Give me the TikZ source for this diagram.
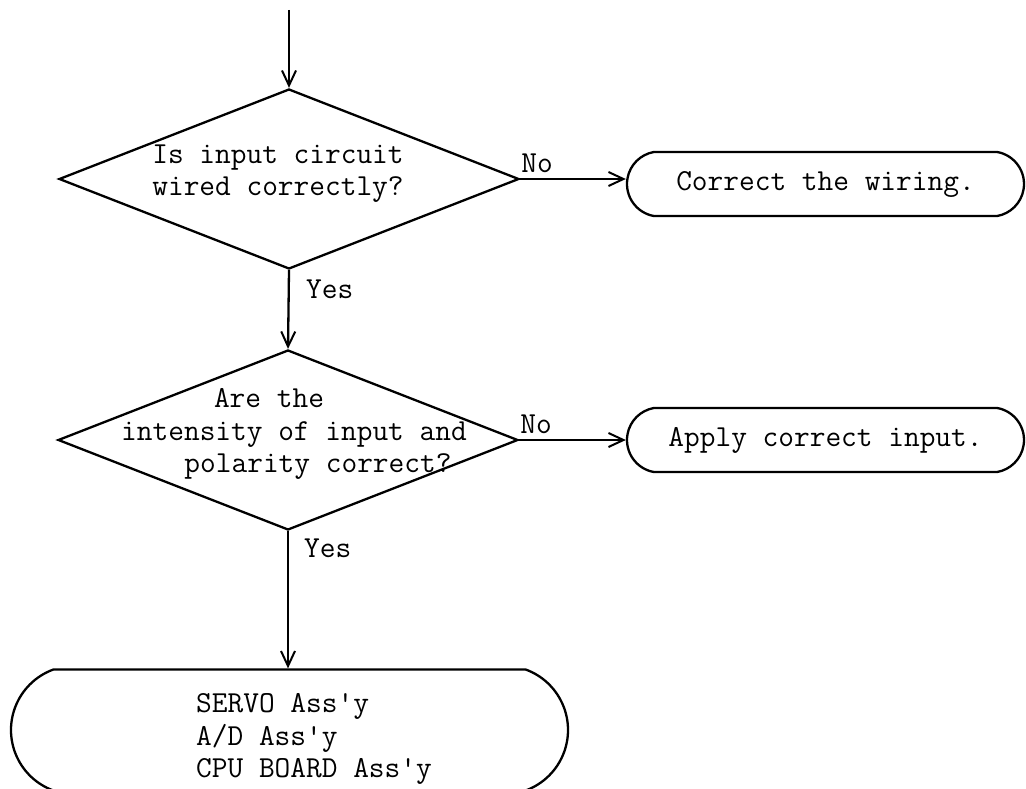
\documentclass[tikz,border=0pt]{standalone}
\usetikzlibrary{shapes.geometric,shapes.misc,arrows.meta}
% text placed over a node without letting it size the node
\newcommand\overlaytext[1]{\smash{\makebox[0pt]{#1}}}
\begin{document}
\begin{tikzpicture}[x=1pt,y=-1pt,
  every node/.style={font=\fontsize{30.5}{32.5}\selectfont\ttfamily},
  flow/.style={line width=2.3pt,-{Straight Barb[length=15pt,width=14pt,line width=2pt]}},
  decision/.style={diamond,draw,line width=2.3pt,inner sep=0pt,
    minimum width=460pt,minimum height=180pt},
  terminal/.style={rounded rectangle,draw,line width=2.3pt,inner sep=0pt,
    rounded rectangle arc length=160,minimum width=397pt,minimum height=64pt},
  bigterminal/.style={terminal,rounded rectangle arc length=140,
    minimum width=557pt,minimum height=121pt},
  lbl/.style={inner sep=0pt}
]
\useasboundingbox (0,0) rectangle (1026,789);

\coordinate (start) at (289,10);

\node[decision] (d1) at (289,179)
  {\overlaytext{\begin{tabular}{@{}c@{}}Is input circuit\\wired correctly?\end{tabular}\hspace*{22pt}}};
\node[terminal] (b1) at (825.5,184) {Correct the wiring.};

\node[decision] (d2) at (288,440)
  {\overlaytext{\begin{tabular}{@{}c@{}}Are the\hspace*{38pt}\\\hspace*{12pt}intensity of input and\\\hspace*{60pt}polarity correct?\end{tabular}}};
\node[terminal] (b2) at (825.5,440) {Apply correct input.};

\node[bigterminal] (b3) at (289.5,730)
  {\overlaytext{\hspace*{49pt}\raisebox{-15pt}{\begin{tabular}{@{}l@{}}SERVO Ass\textquotesingle y\\A/D Ass\textquotesingle y\\CPU BOARD Ass\textquotesingle y\end{tabular}}}};

\draw[flow] (start) -- (d1.north);
\draw[flow] (d1.east) -- (d1.east -| b1.west);
\draw[flow] (d1.south) -- (d2.north);
\draw[flow] (d2.east) -- (d2.east -| b2.west);
\draw[flow] (d2.south) -- (d2.south |- b3.north);

\node[lbl,anchor=base west] (no1) at ([xshift=1pt,yshift=7pt]d1.east) {No};
\node[lbl,anchor=base west] (no2) at ([xshift=1pt,yshift=7pt]d2.east) {No};
\node[lbl,anchor=north west] (yes1) at ([xshift=17pt,yshift=-10pt]d1.south) {Yes};
\node[lbl,anchor=north west] (yes2) at ([xshift=16pt,yshift=-8pt]d2.south) {Yes};
\end{tikzpicture}
\end{document}
